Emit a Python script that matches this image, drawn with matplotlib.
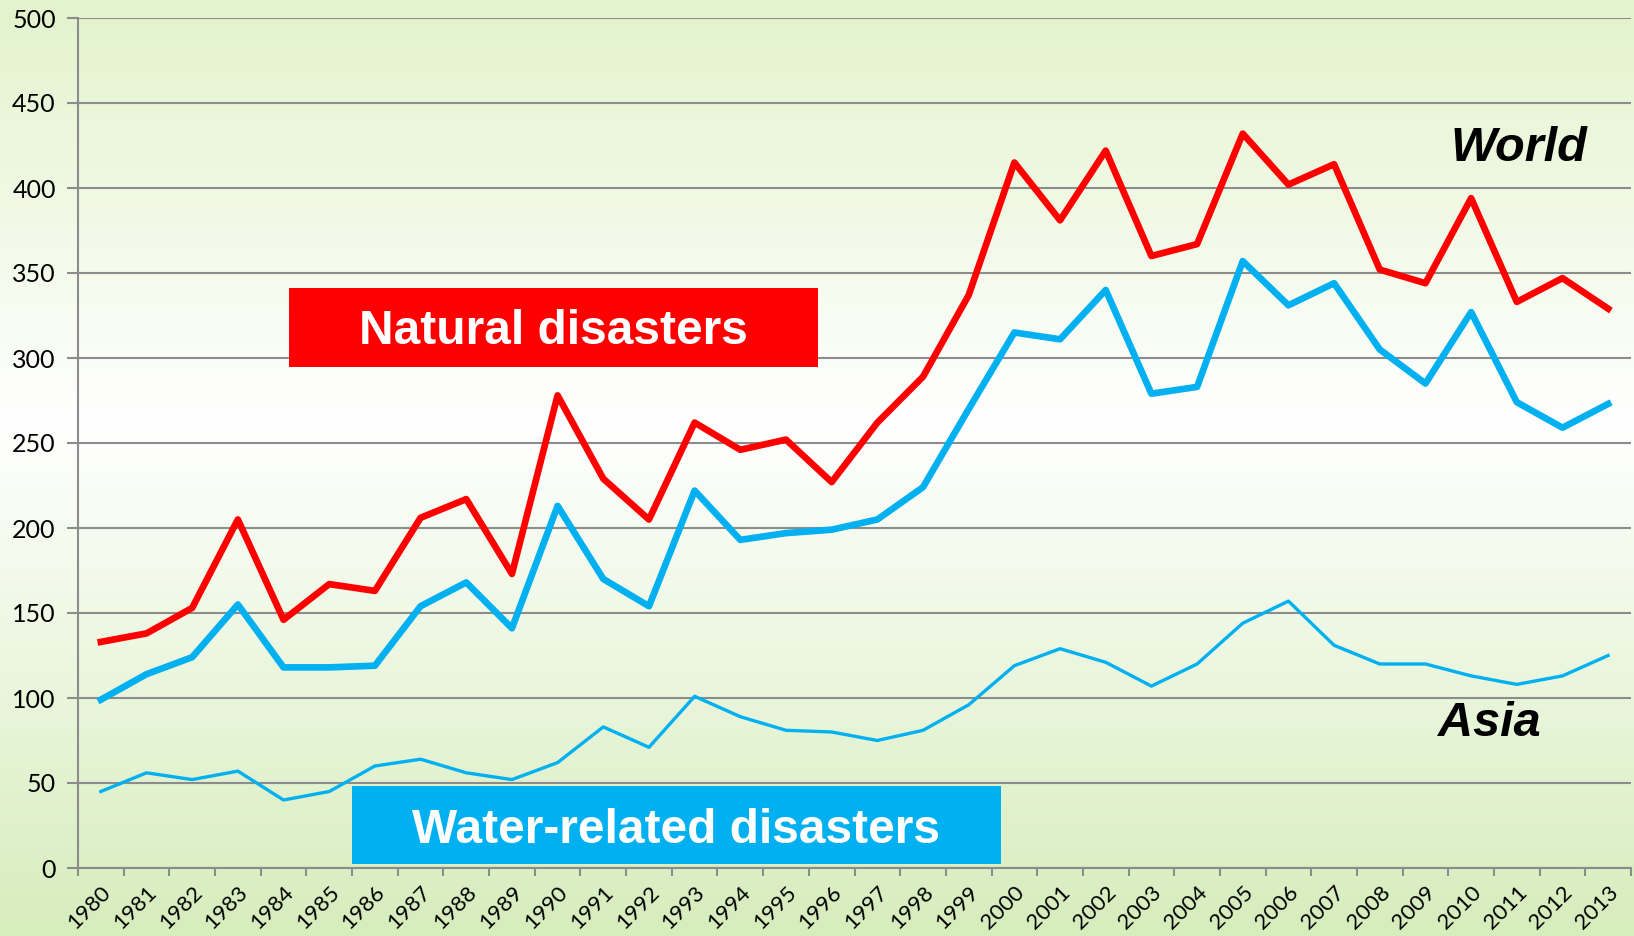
import numpy as np
import matplotlib
matplotlib.use("Agg")
import matplotlib.pyplot as plt
import matplotlib.transforms as mtransforms
from matplotlib.colors import LinearSegmentedColormap
from matplotlib.patches import Rectangle

years = [str(y) for y in range(1980, 2014)]

world_natural = [133, 138, 153, 205, 146, 167, 163, 206, 217, 173,
                 278, 229, 205, 262, 246, 252, 227, 262, 289, 337,
                 415, 381, 422, 360, 367, 432, 402, 414, 352, 344,
                 394, 333, 347, 329]

world_water = [99, 114, 124, 155, 118, 118, 119, 154, 168, 141,
               213, 170, 154, 222, 193, 197, 199, 205, 224, 270,
               315, 311, 340, 279, 283, 357, 331, 344, 305, 285,
               327, 274, 259, 273]

asia_water = [45, 56, 52, 57, 40, 45, 60, 64, 56, 52,
              62, 83, 71, 101, 89, 81, 80, 75, 81, 96,
              119, 129, 121, 107, 120, 144, 157, 131, 120, 120,
              113, 108, 113, 125]

RED = "#ff0000"
BLUE = "#00b0f0"
GRID = "#8c8c8c"

fig = plt.figure(figsize=(16.34, 9.36), dpi=100)

# background gradient: green top, white middle, green bottom
bg = fig.add_axes([0, 0, 1, 1], zorder=-10)
cmap = LinearSegmentedColormap.from_list(
    "bg", [(0.0, "#e3f3cc"), (0.45, "#ffffff"), (1.0, "#d6edbc")])
grad = np.linspace(0, 1, 256).reshape(-1, 1)
bg.imshow(grad, aspect="auto", cmap=cmap, extent=[0, 1, 0, 1])
bg.axis("off")

ax = fig.add_axes([78 / 1634, 1 - 868 / 936, (1631 - 78) / 1634, (868 - 18) / 936])
ax.patch.set_alpha(0)

x = np.arange(len(years))
ax.plot(x, world_natural, color=RED, lw=4.8, solid_joinstyle="round", zorder=5)
ax.plot(x, world_water, color=BLUE, lw=4.8, solid_joinstyle="round", zorder=5)
ax.plot(x, asia_water, color=BLUE, lw=2.4, solid_joinstyle="round", zorder=5)

ax.set_xlim(-0.5, len(years) - 0.5)
ax.set_ylim(0, 500)
ax.set_yticks(np.arange(0, 501, 50))
ax.yaxis.grid(True, color=GRID, lw=1.5)
ax.set_axisbelow(True)

ax.set_xticks(x)
ax.set_xticklabels(years, rotation=45, ha="right", rotation_mode="anchor",
                   fontsize=16, family="Lato")
shift = mtransforms.ScaledTranslation(-4 / 100, 0, fig.dpi_scale_trans)
for lab in ax.get_xticklabels():
    lab.set_transform(lab.get_transform() + shift)
ax.set_xticks(np.arange(-0.5, len(years)), minor=True)
ax.tick_params(axis="x", which="major", length=0, pad=10)
ax.tick_params(axis="x", which="minor", length=6, color=GRID, width=1.5)
ax.tick_params(axis="y", length=8, color=GRID, width=1.5, labelsize=18, pad=8)
for lab in ax.get_yticklabels():
    lab.set_family("Lato")

for s in ["top", "right"]:
    ax.spines[s].set_visible(False)
for s in ["left", "bottom"]:
    ax.spines[s].set_color(GRID)
    ax.spines[s].set_linewidth(1.5)

# label boxes
ax.add_patch(Rectangle((4.13, 295), 15.7 - 4.13, 46, color=RED, zorder=4, lw=0))
ax.text((4.13 + 15.7) / 2, 315.5, "Natural disasters", color="white", fontsize=34.5,
        fontweight="bold", family="Liberation Sans", ha="center", va="center", zorder=6)

ax.add_patch(Rectangle((5.5, 2.5), 19.7 - 5.5, 45.5, color=BLUE, zorder=4, lw=0))
ax.text((5.5 + 19.7) / 2, 22, "Water-related disasters", color="white", fontsize=34.5,
        fontweight="bold", family="Liberation Sans", ha="center", va="center", zorder=6)

ax.text(31.05, 423, "World", fontsize=35, fontweight="bold", style="italic",
        family="Liberation Sans", ha="center", va="center", zorder=6)
ax.text(30.4, 85, "Asia", fontsize=35, fontweight="bold", style="italic",
        family="Liberation Sans", ha="center", va="center", zorder=6)

fig.savefig("out.png", dpi=100)
